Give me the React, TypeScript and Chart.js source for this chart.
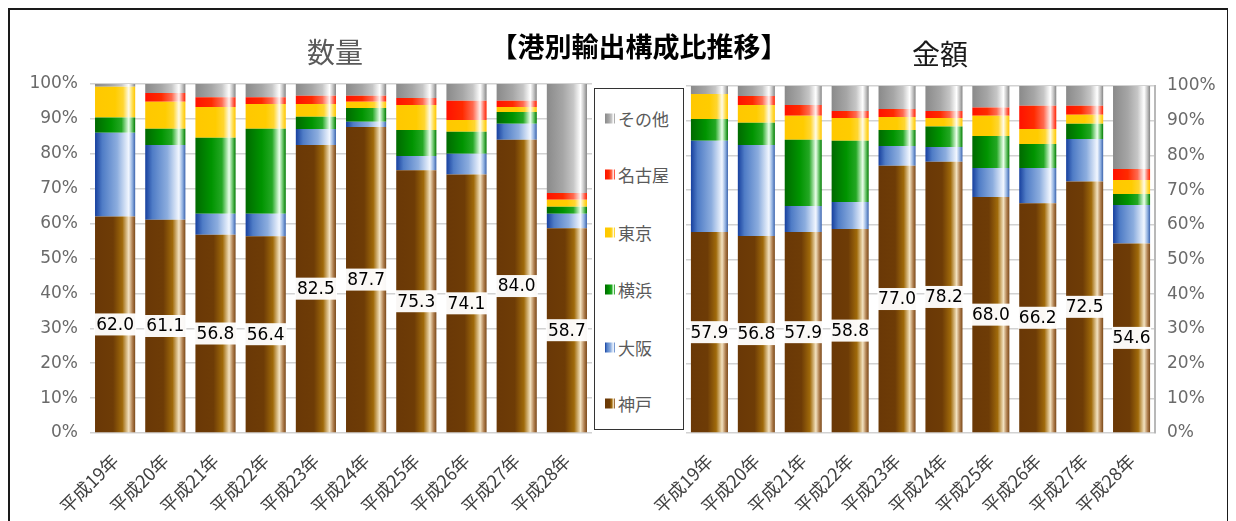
import { useEffect, useRef } from "react";
import { Chart, registerables } from "chart.js";
Chart.register(...registerables);

// ---------- data ----------
const categories = ["平成19年", "平成20年", "平成21年", "平成22年", "平成23年", "平成24年", "平成25年", "平成26年", "平成27年", "平成28年"];
const seriesNames = ["神戸", "大阪", "横浜", "東京", "名古屋", "その他"];
const yTicks = [0, 10, 20, 30, 40, 50, 60, 70, 80, 90, 100];

// 数量 (quantity) share %
const qtyKobe = [62.0, 61.1, 56.8, 56.4, 82.5, 87.7, 75.3, 74.1, 84.0, 58.7];
const qtyOsaka = [24.0, 21.4, 6.0, 6.4, 4.6, 1.5, 4.1, 5.9, 4.6, 4.1];
const qtyYokohama = [4.4, 4.7, 21.8, 24.4, 3.5, 3.9, 7.4, 6.3, 3.4, 2.0];
const qtyTokyo = [8.8, 7.7, 8.8, 7.1, 3.7, 1.8, 7.2, 3.4, 1.4, 2.0];
const qtyNagoya = [0.0, 2.5, 2.8, 1.9, 2.3, 1.7, 2.0, 5.5, 1.8, 2.0];
const qtyOther = [0.8, 2.6, 3.8, 3.8, 3.4, 3.4, 4.0, 4.8, 4.8, 31.2];

// 金額 (value) share %
const valKobe = [57.9, 56.8, 57.9, 58.8, 77.0, 78.2, 68.0, 66.2, 72.5, 54.6];
const valOsaka = [26.3, 26.2, 7.5, 7.8, 5.7, 4.2, 8.4, 10.2, 12.2, 11.1];
const valYokohama = [6.3, 6.4, 19.1, 17.6, 4.6, 5.9, 9.2, 6.9, 4.4, 3.2];
const valTokyo = [7.2, 5.1, 6.9, 6.6, 3.8, 2.5, 5.8, 4.3, 2.6, 4.0];
const valNagoya = [0.0, 2.6, 3.1, 2.0, 2.3, 2.0, 2.4, 6.7, 2.6, 3.2];
const valOther = [2.3, 2.9, 5.5, 7.2, 6.6, 7.2, 6.2, 5.7, 5.7, 23.9];

const qtySeries = [qtyKobe, qtyOsaka, qtyYokohama, qtyTokyo, qtyNagoya, qtyOther];
const valSeries = [valKobe, valOsaka, valYokohama, valTokyo, valNagoya, valOther];

// ---------- styles ----------
const JP = "'Noto Sans CJK JP', 'Noto Sans', sans-serif";
const NUM = "'DejaVu Sans', sans-serif";

const gradients: [number, string][][] = [
  [[0, "#6a3806"], [0.45, "#6e3c06"], [0.68, "#a06a0a"], [0.84, "#f3e2c0"], [0.93, "#b08050"], [1, "#7a4818"]],
  [[0, "#17409e"], [0.18, "#4f7cc6"], [0.55, "#8cadde"], [0.84, "#f2f7ff"], [0.93, "#90b0e0"], [1, "#3b63ad"]],
  [[0, "#006a00"], [0.4, "#009400"], [0.66, "#24a824"], [0.84, "#eaffea"], [0.93, "#60c060"], [1, "#007a00"]],
  [[0, "#ffc800"], [0.5, "#ffcc00"], [0.7, "#ffd630"], [0.84, "#fffbe8"], [0.93, "#ffdf50"], [1, "#ffc400"]],
  [[0, "#ff1200"], [0.4, "#ff2a00"], [0.66, "#ff6a50"], [0.84, "#fff0ee"], [0.93, "#ff7060"], [1, "#ff2200"]],
  [[0, "#8a8a8a"], [0.4, "#a6a6a6"], [0.66, "#c6c6c6"], [0.84, "#ffffff"], [0.93, "#c0c0c0"], [1, "#858585"]],
];
const baseColors = ["#6e3c06", "#6f93d4", "#009400", "#ffcc00", "#ff2a00", "#a6a6a6"];

function makeBg(stops: [number, string][], fallback: string, catPct: number) {
  return (ctx: any) => {
    const chart = ctx.chart;
    const xs = chart.scales && chart.scales.x;
    if (ctx.type !== "data" || !xs || !chart.chartArea || ctx.dataIndex == null) return fallback;
    const cx = xs.getPixelForValue(ctx.dataIndex);
    const w = (xs.width / categories.length) * catPct;
    if (!isFinite(cx) || !isFinite(w) || w <= 0) return fallback;
    const g = chart.ctx.createLinearGradient(cx - w / 2, 0, cx + w / 2, 0);
    stops.forEach(([o, c]) => g.addColorStop(o, c));
    return g;
  };
}

const kobeLabelPlugin = {
  id: "kobeLabels",
  afterDatasetsDraw(chart: any) {
    const meta = chart.getDatasetMeta(0);
    const c = chart.ctx as CanvasRenderingContext2D;
    const vals = chart.data.datasets[0].data as number[];
    c.save();
    meta.data.forEach((el: any, i: number) => {
      const { x, y, base, width } = el.getProps(["x", "y", "base", "width"], true);
      const cy = (y + base) / 2;
      c.fillStyle = "rgba(255,255,255,0.96)";
      c.fillRect(x - width / 2 - 1, cy - 11, width + 2, 22);
      c.fillStyle = "#000";
      c.font = `17px ${NUM}`;
      c.textAlign = "center";
      c.textBaseline = "middle";
      c.fillText(vals[i].toFixed(1), x, cy + 1);
    });
    c.restore();
  },
};

type ChartProps = {
  series: number[][];
  side: "left" | "right";
  left: number;
  top: number;
  width: number;
  height: number;
  axisWidth: number;
  padTop: number;
  padLeft: number;
  catPct: number;
};

function StackChart(p: ChartProps) {
  const ref = useRef<HTMLCanvasElement>(null);
  useEffect(() => {
    const chart = new Chart(ref.current!, {
      type: "bar",
      data: {
        labels: categories,
        datasets: seriesNames.map((n, i) => ({
          label: n,
          data: p.series[i],
          backgroundColor: makeBg(gradients[i], baseColors[i], p.catPct) as any,
          borderWidth: 0,
          categoryPercentage: p.catPct,
          barPercentage: 1,
        })),
      },
      options: {
        animation: false,
        responsive: false,
        maintainAspectRatio: false,
        layout: { padding: { top: p.padTop, left: p.padLeft, right: 0, bottom: 0 } },
        plugins: { legend: { display: false }, tooltip: { enabled: false } },
        scales: {
          x: {
            stacked: true,
            grid: { display: false },
            border: { display: false },
            ticks: {
              maxRotation: 45,
              minRotation: 45,
              autoSkip: false,
              color: "#404040",
              font: { family: JP, size: 18 },
              padding: 9,
            },
            afterFit: (a: any) => {
              a.height = 88;
              a.paddingLeft = 0;
              a.paddingRight = 0;
            },
          },
          y: {
            stacked: true,
            position: p.side,
            min: 0,
            max: 100,
            afterBuildTicks: (a: any) => {
              a.ticks = yTicks.map((v) => ({ value: v }));
            },
            ticks: {
              callback: (v: any) => `${v}%`,
              color: "#6a6a6a",
              font: { family: NUM, size: 17 },
              padding: 12,
            },
            grid: { color: "#d2d2d2", lineWidth: 1.5, drawTicks: false },
            border: { display: p.side === "right", color: "#b8b8b8", width: 2 },
            afterFit: (a: any) => {
              a.width = p.axisWidth;
              a.paddingTop = 0;
              a.paddingBottom = 0;
            },
          },
        },
      },
      plugins: [kobeLabelPlugin],
    });
    return () => chart.destroy();
  }, []);
  return (
    <canvas
      ref={ref}
      width={p.width}
      height={p.height}
      style={{ position: "absolute", left: p.left, top: p.top, width: p.width, height: p.height }}
    />
  );
}

const legendOrder = [5, 4, 3, 2, 1, 0];
const legendY = [118, 174, 232, 289, 347, 403];

function cssGrad(stops: [number, string][]) {
  return `linear-gradient(to right, ${stops.map(([o, c]) => `${c} ${Math.round(o * 100)}%`).join(", ")})`;
}

export default function App() {
  useEffect(() => {
    document.documentElement.style.overflow = "hidden";
    document.body.style.overflow = "hidden";
  }, []);
  // container content origin is page (10,10)
  const o = 10;
  return (
    <div
      style={{
        position: "relative",
        width: 1221,
        height: 540,
        border: "2px solid #1a1a1a",
        boxSizing: "border-box",
        background: "#fff",
        overflow: "hidden",
      }}
    >
      <StackChart series={qtySeries} side="left" left={10 - o} top={60 - o} width={582} height={461} axisWidth={80} padTop={24} padLeft={0} catPct={0.8} />
      <StackChart series={valSeries} side="right" left={616 - o} top={60 - o} width={610} height={461} axisWidth={71} padTop={26} padLeft={70} catPct={0.79} />

      <div style={{ position: "absolute", left: 335 - o, top: 51 - o, transform: "translate(-50%,-50%)", font: `28px ${JP}`, color: "#5a5a5a", whiteSpace: "nowrap" }}>数量</div>
      <div style={{ position: "absolute", left: 639 - o, top: 45 - o, transform: "translate(-50%,-50%)", font: `bold 27px ${JP}`, color: "#000", whiteSpace: "nowrap" }}>【港別輸出構成比推移】</div>
      <div style={{ position: "absolute", left: 940 - o, top: 53 - o, transform: "translate(-50%,-50%)", font: `28px ${JP}`, color: "#1a1a1a", whiteSpace: "nowrap" }}>金額</div>

      <div
        style={{
          position: "absolute",
          left: 594 - o,
          top: 88 - o,
          width: 90,
          height: 342,
          border: "1.5px solid #333",
          boxSizing: "border-box",
          background: "#fff",
        }}
      />
      {legendOrder.map((si, k) => (
        <div key={si} style={{ position: "absolute", left: 605 - o, top: legendY[k] - o, transform: "translateY(-50%)", display: "flex", alignItems: "center", whiteSpace: "nowrap" }}>
          <span style={{ display: "inline-block", width: 10, height: 10, background: cssGrad(gradients[si]), marginRight: 3 }} />
          <span style={{ font: `17px ${JP}`, color: "#5a5a5a" }}>{seriesNames[si]}</span>
        </div>
      ))}
    </div>
  );
}
